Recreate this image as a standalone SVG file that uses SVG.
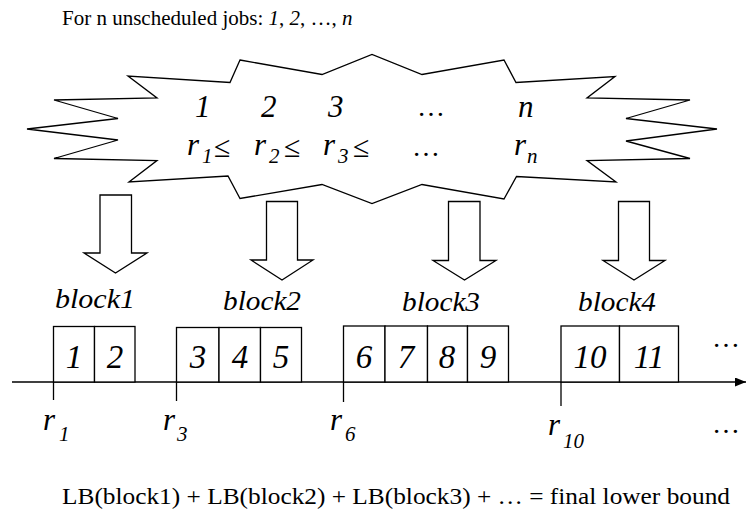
<svg xmlns="http://www.w3.org/2000/svg" width="747" height="519" viewBox="0 0 747 519">
<style>
.t{font-family:"Liberation Serif","Times New Roman",serif;fill:#000}
.i{font-style:italic}
.ln{fill:none;stroke:#000;stroke-width:1.3}
.bx{fill:#fff;stroke:#000;stroke-width:1.3}
</style>
<defs>
<marker id="ah" viewBox="0 0 11 9" refX="11" refY="4.5" markerWidth="11" markerHeight="9" markerUnits="userSpaceOnUse" orient="auto">
<path d="M0,0 L11,4.5 L0,9 z" fill="#000"/>
</marker>
</defs>
<rect width="747" height="519" fill="#fff"/>
<g id="title" font-family="Liberation Serif, serif">
<text class="t" x="62" y="25" font-size="21">For n unscheduled jobs: <tspan class="i">1</tspan>, <tspan class="i">2</tspan>, …, <tspan class="i">n</tspan></text>
</g>
<g id="jobs" font-family="Liberation Serif, serif">
<polygon class="ln" points="240,60 322,74.5 372,54.5 422,74.5 504,60 516,82.5 615,76.5 587,98 690,100 626,118.5 717,129 626,141 690,158.5 587,160.5 616,182 516.5,176.5 504,199 422,184.5 372,203.5 322,184.5 240,198.5 228,176 129,182 157,160.5 54,158.5 118,140 27,129 118,118.5 54,100 157,98 128,76 230,82.5"/>
<g class="t i" font-size="31">
<text x="195" y="117">1</text>
<text x="261" y="117">2</text>
<text x="328" y="117">3</text>
<text x="518" y="117">n</text>
<text x="187" y="155">r</text>
<text x="254" y="155">r</text>
<text x="323" y="155">r</text>
<text x="514" y="155">r</text>
</g>
<g class="t i" font-size="21">
<text x="202" y="163">1</text>
<text x="269" y="163">2</text>
<text x="338" y="163">3</text>
<text x="527" y="163">n</text>
</g>
<g class="t" font-size="30">
<text x="214" y="157">≤</text>
<text x="284" y="157">≤</text>
<text x="353" y="157">≤</text>
</g>
<g class="t" font-size="28">
<text x="417" y="116">…</text>
<text x="412" y="156">…</text>
</g>
</g>
<g id="arrow1"><polygon class="ln" points="100,195 131.5,195 131.5,253 147,253 115.5,273 84,253 100,253"/></g>
<g id="arrow2"><polygon class="ln" points="266.5,201.5 297.5,201.5 297.5,260 313,260 282,280 251,260 266.5,260"/></g>
<g id="arrow3"><polygon class="ln" points="448.5,201.5 480,201.5 480,260.5 496,260.5 464.5,280 433,260.5 448.5,260.5"/></g>
<g id="arrow4"><polygon class="ln" points="618.5,201.5 649.5,201.5 649.5,260.5 665,260.5 634,280 603,260.5 618.5,260.5"/></g>
<g id="labels" class="t i" font-size="28" font-family="Liberation Serif, serif">
<text x="55" y="308" textLength="80" lengthAdjust="spacingAndGlyphs">block1</text>
<text x="223" y="310" textLength="78" lengthAdjust="spacingAndGlyphs">block2</text>
<text x="402" y="311" textLength="78" lengthAdjust="spacingAndGlyphs">block3</text>
<text x="578" y="311" textLength="78" lengthAdjust="spacingAndGlyphs">block4</text>
</g>
<g id="connectors">
<line class="ln" x1="12" y1="382" x2="746" y2="382" marker-end="url(#ah)"/>
<line class="ln" x1="53.5" y1="382" x2="53.5" y2="400"/>
<line class="ln" x1="176.5" y1="382" x2="176.5" y2="401"/>
<line class="ln" x1="343.5" y1="382" x2="343.5" y2="402"/>
<line class="ln" x1="561" y1="382" x2="561" y2="406"/>
</g>
<g id="block1">
<rect class="bx" x="53.5" y="326.5" width="41" height="55.5"/>
<rect class="bx" x="94.5" y="326.5" width="40.5" height="55.5"/>
</g>
<g id="block2">
<rect class="bx" x="176.5" y="327.5" width="42.5" height="54.5"/>
<rect class="bx" x="219" y="327.5" width="41.5" height="54.5"/>
<rect class="bx" x="260.5" y="327.5" width="41" height="54.5"/>
</g>
<g id="block3">
<rect class="bx" x="343.5" y="326" width="41.5" height="56"/>
<rect class="bx" x="385" y="326" width="42.5" height="56"/>
<rect class="bx" x="427.5" y="326" width="40" height="56"/>
<rect class="bx" x="467.5" y="326" width="41" height="56"/>
</g>
<g id="block4">
<rect class="bx" x="561" y="326" width="58.5" height="56"/>
<rect class="bx" x="619.5" y="326" width="59" height="56"/>
</g>
<g id="jobnums" class="t i" font-size="33" text-anchor="middle" font-family="Liberation Serif, serif">
<text x="74" y="368">1</text>
<text x="115" y="368">2</text>
<text x="198" y="368">3</text>
<text x="240" y="368">4</text>
<text x="281" y="368">5</text>
<text x="364" y="368">6</text>
<text x="406" y="368">7</text>
<text x="447" y="368">8</text>
<text x="488" y="368">9</text>
<text x="590" y="368">10</text>
<text x="649" y="368">11</text>
</g>
<g id="releases" class="t i" font-family="Liberation Serif, serif">
<text x="43" y="430" font-size="31">r</text><text x="59" y="441" font-size="21">1</text>
<text x="163" y="430" font-size="31">r</text><text x="177" y="441" font-size="21">3</text>
<text x="330" y="430" font-size="31">r</text><text x="345" y="441" font-size="21">6</text>
<text x="548" y="435" font-size="31">r</text><text x="563" y="448" font-size="21">10</text>
</g>
<g class="t" font-size="28" font-family="Liberation Serif, serif">
<text x="712" y="347">…</text>
<text x="712" y="433">…</text>
</g>
<g id="footer" font-family="Liberation Serif, serif">
<text class="t" x="62" y="504" font-size="23" textLength="668" lengthAdjust="spacingAndGlyphs">LB(block1) + LB(block2) + LB(block3) + … = final lower bound</text>
</g>
</svg>
